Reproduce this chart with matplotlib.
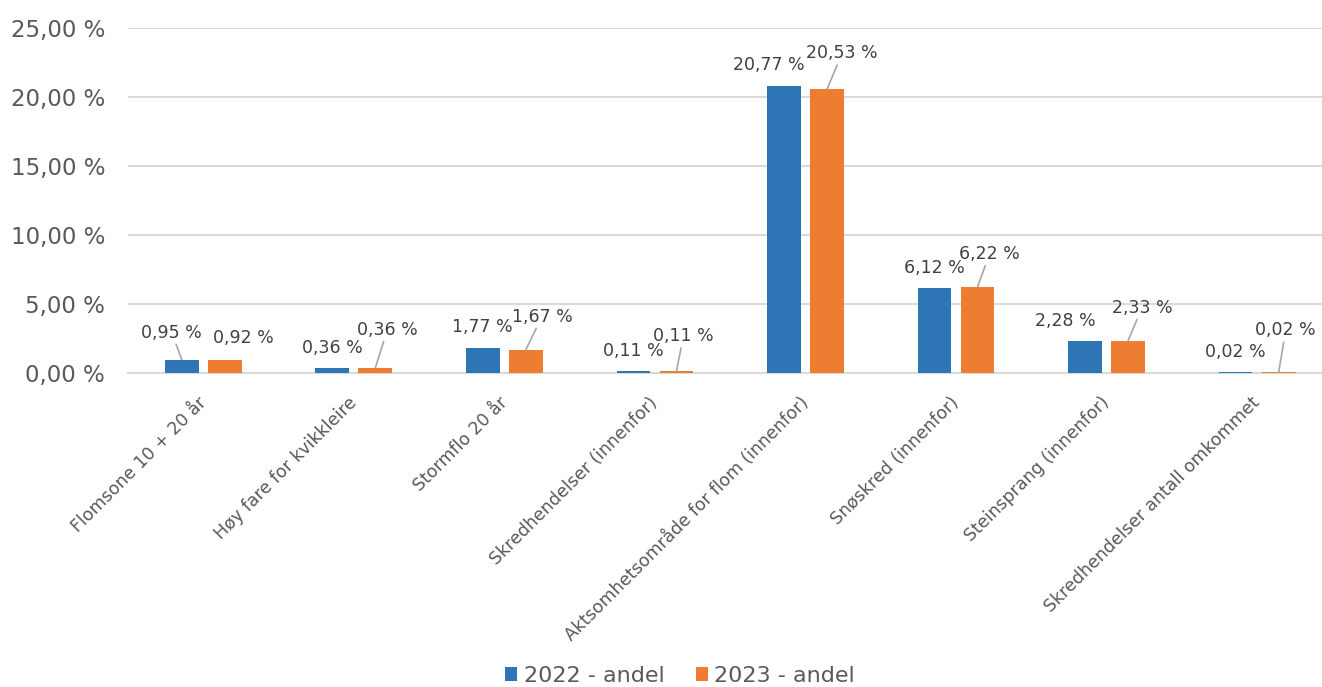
import matplotlib
matplotlib.use("Agg")
import matplotlib.pyplot as plt
import matplotlib.transforms as mtransforms
import numpy as np

categories = [
    "Flomsone 10 + 20 år",
    "Høy fare for kvikkleire",
    "Stormflo 20 år",
    "Skredhendelser (innenfor)",
    "Aktsomhetsområde for flom (innenfor)",
    "Snøskred (innenfor)",
    "Steinsprang (innenfor)",
    "Skredhendelser antall omkommet",
]
series_names = ["2022 - andel", "2023 - andel"]
values_2022 = [0.95, 0.36, 1.77, 0.11, 20.77, 6.12, 2.28, 0.02]
values_2023 = [0.92, 0.36, 1.67, 0.11, 20.53, 6.22, 2.33, 0.02]
y_ticks = [0, 5, 10, 15, 20, 25]
y_tick_labels = ["0,00 %", "5,00 %", "10,00 %", "15,00 %", "20,00 %", "25,00 %"]

# label offsets in pixels (style), relative to top centre of each bar
off_2022 = [(-10, 27), (0, 20), (-1, 21), (0, 20), (-15, 21), (0, 20), (-20, 20), (0, 20)]
off_2023 = [(19, 22), (12, 38), (16, 33), (7, 35), (15, 36), (12, 33), (14, 33), (7, 42)]
lead_2022 = [True, False, False, False, False, False, False, False]
lead_2023 = [False, True, True, True, True, True, True, True]

blue = "#2E75B6"
orange = "#ED7D31"
grid_c = "#D9D9D9"
txt_c = "#595959"
lbl_c = "#404040"

plt.rcParams["font.family"] = ["DejaVu Sans"]

fig = plt.figure(figsize=(13.22, 6.87), dpi=100)
ax = fig.add_axes([128 / 1322, 1 - 372.7 / 687, (1332.4 - 128) / 1322, 345 / 687])

x = np.arange(len(categories))
bw = 0.224
shift = 0.143
b1 = ax.bar(x - shift, values_2022, bw, color=blue, label=series_names[0], zorder=3)
b2 = ax.bar(x + shift, values_2023, bw, color=orange, label=series_names[1], zorder=3)

ax.set_xlim(-0.5, len(categories) - 0.5)
ax.set_ylim(0, 25)
ax.set_yticks(y_ticks)
ax.set_yticklabels(y_tick_labels, fontsize=16.5, color=txt_c)
ax.tick_params(axis="y", length=0, pad=16.5)
ax.set_xticks(x)
ax.set_xticklabels(categories, rotation=45, ha="right", va="top",
                   rotation_mode="anchor", fontsize=12.5, color=txt_c)
ax.tick_params(axis="x", length=0, pad=15)
shift_tr = mtransforms.ScaledTranslation(-6 / 100, 0, fig.dpi_scale_trans)
for t in ax.get_xticklabels():
    t.set_transform(t.get_transform() + shift_tr)

ax.grid(axis="y", color=grid_c, linewidth=1.4, zorder=0)
for s in ["top", "right", "left"]:
    ax.spines[s].set_visible(False)
ax.spines["bottom"].set_color(grid_c)
ax.spines["bottom"].set_linewidth(1.4)
ax.spines["bottom"].set_zorder(1)


def fmt(v):
    return f"{v:.2f}".replace(".", ",") + " %"


def label(xs, vals, offs, leads):
    for xi, v, (dx, dy), ld in zip(xs, vals, offs, leads):
        kw = {}
        if ld:
            kw["arrowprops"] = dict(arrowstyle="-", color="#A6A6A6", lw=1.2,
                                    shrinkA=0, shrinkB=0)
        ax.annotate(fmt(v), xy=(xi, v), xytext=(dx, dy), textcoords="offset pixels",
                    ha="center", va="center", fontsize=12.5, color=lbl_c,
                    zorder=5, **kw)


label(x - shift, values_2022, off_2022, lead_2022)
label(x + shift, values_2023, off_2023, lead_2023)

fig.legend(handles=[b1, b2], labels=series_names, loc="center",
           bbox_to_anchor=(680 / 1322, 1 - 676 / 687), ncol=2, frameon=False,
           fontsize=16, handlelength=0.55, handleheight=0.55, handletextpad=0.3,
           columnspacing=1.4, labelcolor=txt_c, borderpad=0)

fig.savefig("out.png", dpi=100)
